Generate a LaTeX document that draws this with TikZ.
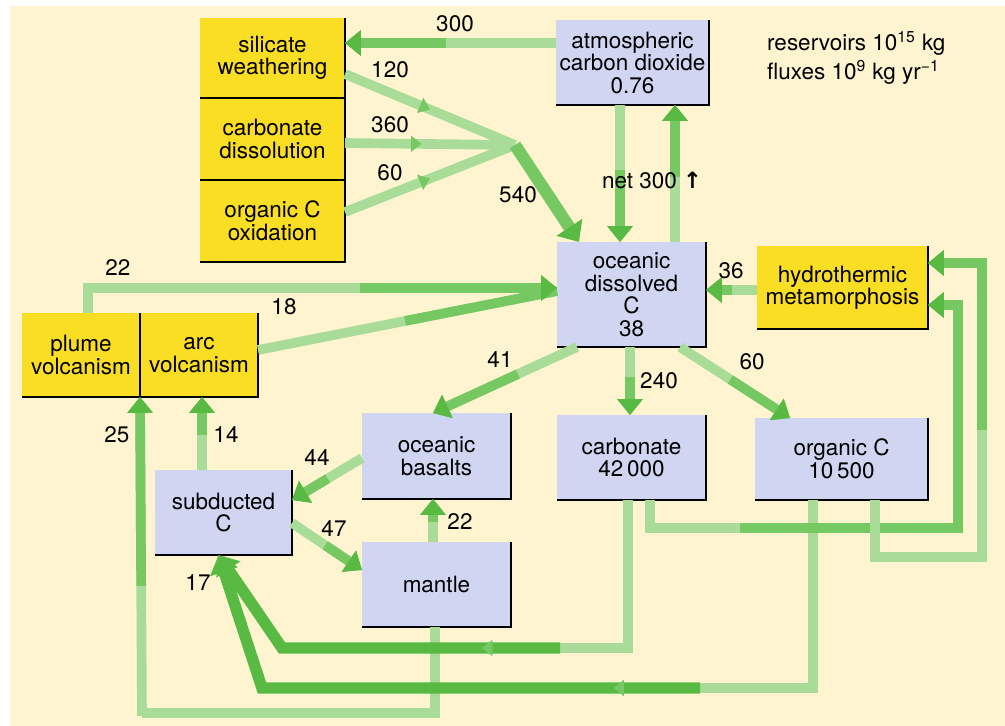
\documentclass[tikz,border=0pt]{standalone}
\usepackage{fontspec}
\setmainfont{TeX Gyre Heros}
\newfontfamily\symfont{DejaVu Sans}
\usetikzlibrary{arrows.meta,decorations.markings}
\definecolor{paper}{RGB}{255,244,208}
\definecolor{resblue}{RGB}{208,214,242}
\definecolor{procyellow}{RGB}{250,222,35}
\definecolor{flowlight}{RGB}{168,220,152}
\definecolor{flowgreen}{RGB}{118,200,98}
\definecolor{flowdark}{RGB}{88,186,66}

\begin{document}
\begin{tikzpicture}[
  x=0.02cm, y=-0.02cm,
  font=\fontsize{12.8}{12.8}\selectfont,
  res/.style={fill=resblue, align=center, inner sep=2pt, outer sep=0pt},
  proc/.style={fill=procyellow, align=center, inner sep=2pt, outer sep=0pt},
  rim/.style={black, line width=1.3pt},
  plain/.style={draw=flowlight, line width=5.5pt},
  faint/.style={plain, postaction={draw=flowgreen, line width=5.5pt, shorten <=#1}},
  flow/.style={draw=flowlight, line width=5.5pt, -{Triangle[width=14pt,length=9pt,color=flowdark]},
    postaction={draw=flowgreen, line width=5.5pt, shorten <=#1}},
  flow/.default=0pt,
  flowbig/.style={draw=flowgreen, line width=7pt, -{Triangle[width=17pt,length=10pt,color=flowdark]}},
  flowdk/.style={draw=flowdark, line width=6.5pt, -{Triangle[width=16pt,length=10pt,color=flowdark]}},
  midtip/.style={postaction={decorate, decoration={markings,
      mark=at position #1 with {\arrow{Triangle[width=9pt,length=6pt,color=flowgreen]}}}}},
  num/.style={inner sep=1pt},
]
% background
\useasboundingbox (0,0) rectangle (1005,726);
\fill[paper] (10,6) rectangle (1005,726);

% weathering stack
\node[proc, minimum width=2.9cm, minimum height=1.6cm] (silw) at (272.5,58) {silicate\\weathering};
\node[proc, minimum width=2.9cm, minimum height=1.64cm] (cdis) at (272.5,139) {carbonate\\dissolution};
\node[proc, minimum width=2.9cm, minimum height=1.64cm] (orgox) at (272.5,221) {organic C\\oxidation};

% reservoirs
\node[res, minimum width=2.98cm, minimum height=1.7cm] (atm) at (632.5,62.5) {atmospheric\\carbon dioxide\\0.76};
\node[res, minimum width=2.98cm, minimum height=2.1cm] (ocean) at (631.5,294.5) {oceanic\\dissolved\\C\\38};
\node[res, minimum width=2.98cm, minimum height=1.7cm] (carb) at (631.5,457.5) {carbonate\\42\,000};
\node[res, minimum width=3.46cm, minimum height=1.64cm] (orgc) at (841.5,459) {organic C\\10\,500};
\node[res, minimum width=2.98cm, minimum height=1.72cm] (basalt) at (436.5,456) {oceanic\\basalts};
\node[res, minimum width=2.74cm, minimum height=1.7cm] (subd) at (223.5,512.5) {subducted\\C};
\node[res, minimum width=2.98cm, minimum height=1.7cm] (mantle) at (436.5,584.5) {mantle};

% processes
\node[proc, minimum width=3.42cm, minimum height=1.66cm] (hydro) at (842.5,287.5) {hydrothermic\\metamorphosis};
\node[proc, minimum width=2.36cm, minimum height=1.68cm] (plume) at (81,355) {plume\\volcanism};
\node[proc, minimum width=2.36cm, minimum height=1.68cm] (arc) at (199,355) {arc\\volcanism};

\foreach \b in {silw,cdis,orgox,atm,ocean,carb,orgc,basalt,subd,mantle,hydro,plume,arc}
  \draw[rim] (\b.north east) -- (\b.south east) -- (\b.south west);

\node[anchor=west, align=left] (units) at (761,58) {reservoirs 10\textsuperscript{15} kg\\[2pt]fluxes 10\textsuperscript{9} kg yr\textsuperscript{−1}};

% weathering fluxes
\coordinate (jn) at (515,145);
\draw[flow=2.2cm] (atm.west |- 0,43) -- (silw.east |- 0,43);
\draw[plain, midtip=0.5] (silw.east |- 0,74) -- (jn);
\draw[plain, midtip=0.45] (cdis.east |- 0,143) -- (jn);
\draw[plain, midtip=0.5] (orgox.east |- 0,212) -- (jn);
\draw[flowbig] (jn) -- ([xshift=0.44cm]ocean.north west);

% atmosphere <-> ocean
\draw[flow=1.3cm] (atm.south -| 620,0) -- (ocean.north -| 620,0);
\draw[flow=1.3cm] (ocean.north -| 675,0) -- (atm.south -| 675,0);

% volcanism and hydrothermal input
\coordinate (c22) at (250,288);
\draw[faint=3cm] (arc.east |- 0,350) -- (ocean.west |- 0,291);
\draw[plain] (plume.north -| 88,0) |- ([xshift=0.1cm]c22);
\draw[flow=2.2cm] (c22) -- (ocean.west |- 0,288);
\draw[flow=0.5cm] (hydro.west |- 0,290) -- (ocean.east |- 0,290);

% ocean outputs
\draw[flow=1.3cm] (ocean.south west) ++(0.4cm,0) -- ([xshift=1.42cm]basalt.north west);
\draw[flow=0.6cm] (ocean.south -| 630,0) -- (carb.north -| 630,0);
\draw[flow=1.2cm] (ocean.south west) ++(2.46cm,0) -- ([xshift=0.7cm]orgc.north west);

% crust and mantle
\draw[flow=0.8cm] (basalt.west |- 0,458) -- (subd.east |- 0,500);
\draw[flow=0.8cm] (subd.east |- 0,523) -- (mantle.west |- 0,570);
\draw[flow=0.4cm] (mantle.north -| 433,0) -- (basalt.south -| 433,0);
\draw[flow=0.7cm] (subd.north -| 202,0) -- (arc.south -| 202,0);
\coordinate (c25) at (142,713);
\draw[plain] (mantle.south -| 435,0) |- (c25);
\draw[flow=2.6cm] ([yshift=-0.055cm]c25) -- (plume.south east);

% sediments to subduction and metamorphism
\coordinate (c17a) at (560,648);
\coordinate (c17b) at (700,688);
\draw[plain] (carb.south -| 628,0) |- ([xshift=-0.1cm]c17a);
\draw[flowdk, midtip=0.2] (c17a) -- (282,648) -- ([xshift=-0.1cm]subd.south);
\draw[plain] (orgc.south -| 813,0) |- ([xshift=-0.1cm]c17b);
\draw[flowdk, midtip=0.15] (c17b) -- (262,688) -- ([xshift=-0.1cm]subd.south);
\coordinate (ch1) at (740,528);
\coordinate (ch2) at (982,430);
\draw[plain] (carb.south -| 650,0) |- ([xshift=0.1cm]ch1);
\draw[flow] (ch1) -| (958,420) |- (hydro.east |- 0,305);
\draw[plain] (orgc.south -| 875,0) |- (982,557) -- ([yshift=0.1cm]ch2);
\draw[flow] (ch2) |- (hydro.east |- 0,263);

% flux labels
\node[num] (f300) at (455,24) {300};
\node[num] (f120) at (390,70) {120};
\node[num] (f360) at (390,125) {360};
\node[num] (f60a) at (390,173) {60};
\node[num] (f540) at (518,195) {540};
\node[num] (fnet) at (652,180) {net 300 {\symfont\bfseries ↑}};
\node[num] (f22a) at (118,268) {22};
\node[num] (f18) at (284,307) {18};
\node[num] (f36) at (731,271) {36};
\node[num] (f41) at (500,360) {41};
\node[num] (f240) at (659,381) {240};
\node[num] (f60b) at (752,362) {60};
\node[num] (f44) at (317,458) {44};
\node[num] (f47) at (334,529) {47};
\node[num] (f22b) at (460,522) {22};
\node[num] (f14) at (226,435) {14};
\node[num] (f25) at (117,435) {25};
\node[num] (f17) at (198,583) {17};
\end{tikzpicture}
\end{document}
